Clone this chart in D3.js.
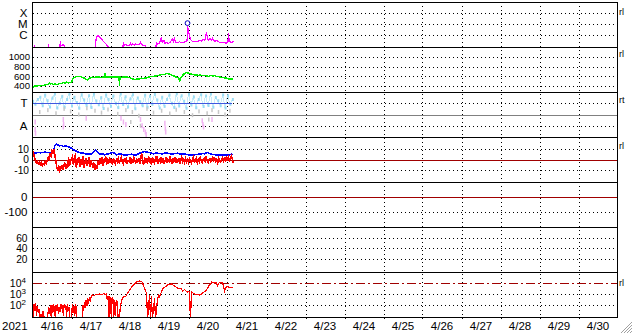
<!DOCTYPE html>
<html>
<head>
<meta charset="utf-8">
<script src="https://cdn.jsdelivr.net/npm/d3@7"></script>
<style>
body { margin: 0; background: #fff; }
svg { display: block; font-family: "Liberation Sans", Arial, sans-serif; }
</style>
</head>
<body>
<script>
// hours since 2021-04-16 00:00 UT, value
var days = ["4/16","4/17","4/18","4/19","4/20","4/21","4/22","4/23","4/24","4/25","4/26","4/27","4/28","4/29","4/30"];

var xray = [[0,5e-8],[1.0,5e-8],[1.2,1.3e-7],[1.5,5e-8],[9.5,5e-8],[9.8,1.6e-7],[10.1,5e-8],
  [16.8,5e-8],[17.1,2.8e-7],[17.5,1.2e-7],[18.2,1.1e-7],[18.6,1.4e-7],[19.5,1.1e-7],[20.2,5e-8],
  [38.5,5e-8],[39.2,5e-7],[40.0,9e-7],[41.0,7e-7],[42.5,4e-7],[44,2.3e-7],[45.5,1.4e-7],[46.5,8e-8],
  [55.5,6e-8],[56,2.3e-7],[56.4,1.2e-7],[57.5,1.4e-7],[58.5,1.1e-7],[60,1.3e-7],[60.3,2.3e-7],[60.7,1.2e-7],
  [61.5,1.5e-7],[62.5,1.2e-7],[63.5,1.6e-7],[64.5,1.3e-7],[66,1.4e-7],[66.5,2.6e-7],[66.9,1.3e-7],
  [68,1.2e-7],[69.5,1.1e-7],[70.2,6e-8],[75.8,6e-8],[76.3,2.3e-7],[76.8,1.5e-7],[78,1.6e-7],
  [79.4,7e-7],[79.8,2e-7],[80.9,3.5e-7],[81.4,1.8e-7],[82.5,2e-7],[83.5,1.7e-7],[84.5,2.1e-7],
  [86.2,4.5e-7],[86.7,2e-7],[87.4,6e-7],[87.9,2.2e-7],[89,2e-7],[90.5,2.4e-7],[92,2e-7],[93.5,2.3e-7],
  [95.1,3e-7],[95.4,7e-6],[96,2e-6],[96.6,8e-7],[97.2,4e-7],[98.5,2.5e-7],[100,2.8e-7],[101.5,2.4e-7],
  [103,3.5e-7],[104,2.8e-7],[105,4e-7],[106,3e-7],[107.1,1.9e-6],[107.7,4e-7],[108.5,3.5e-7],[109.3,5e-7],
  [110,3.2e-7],[110.7,5e-7],[111.5,3e-7],[112.5,2.8e-7],[113.5,3.2e-7],[115,2.2e-7],[116.5,1.9e-7],
  [118,2e-7],[119.5,1.8e-7],[120.3,2.5e-7],[120.6,1.6e-6],[121,3e-7],[122,2.2e-7],[123,2e-7],[123.6,3e-7]];
var flareT = [95.4];
var flareV = [1.2e-5];

var speed = [[0,365],[1,390],[2,405],[3,395],[4,410],[5,400],[6,415],[7,405],[8,425],[9,430],[10,445],
  [10.5,465],[11,440],[12,450],[13,430],[14,445],[15,425],[16,440],[17,455],[18,445],[19,470],[20,455],
  [21,480],[22,465],[23,475],[24,470],[24.5,520],[25,560],[26,580],[27,595],[28,590],[29,600],[30,585],
  [31,575],[32,560],[33,540],[34,525],[35,560],[36,575],[37,580],[38,575],[39,585],[40,580],[41,590],
  [42,575],[43,580],[44,585],[44.6,670],[45,580],[46,590],[47,585],[48,580],[49,590],[50,585],[51,580],
  [52,590],[53.3,580],[53.5,400],[53.8,585],[55,575],[56,590],[57,580],[58,585],[59,575],[60,570],
  [61,550],[62,540],[63,530],[64,545],[65,535],[66,550],[67,560],[68,555],[69,565],[70,560],[71,575],
  [72,585],[73,595],[74,590],[75,605],[76,600],[77,615],[78,620],[79,630],[80,640],[81,635],[82,650],
  [83,655],[84,645],[85,640],[86,620],[87,605],[88,590],[89,575],[90,570],[90.5,490],[91,560],[92,600],
  [93,640],[94,670],[95,680],[96,665],[97,650],[98,640],[99,635],[100,625],[101,630],[102,620],[103,625],
  [104,615],[105,620],[106,610],[107,615],[108,590],[109,610],[110,620],[111,605],[112,615],[113,600],
  [114,595],[115,590],[116,580],[117,575],[118,570],[119,565],[120,550],[121,545],[122,540],[123,545],[123.7,550]];

// IMF sector angle (deg)
var phiTowards = [[0,285],[1.5,262],[3,300],[4.5,318],[6,250],[7.5,335],[9,290],[10.5,240],[12,310],
  [13.5,344],[15,232],[16.5,270],[18,325],[19.5,238],[21,300],[22.5,345],[24,248],[25.5,318],[27,276],
  [28.5,230],[30,338],[31.5,296],[33,252],[34.5,330],[36,236],[37.5,342],[39,288],[40.5,258],[42,315],
  [43.5,228],[45,336],[46.5,300],[48,246],[49.5,328],[51,270],[52.5,235],[54,344],[55.5,260],[57,322],
  [58.5,240],[60,304],[61.5,338],[63,226],[64.5,312],[66,282],[67.5,250],[69,334],[70.5,238],[72,326],
  [73.5,262],[75,340],[76.5,296],[78,232],[79.5,318],[81,245],[82.5,300],[84,336],[85.5,270],[87,236],
  [88.5,346],[90,248],[91.5,330],[93,286],[94.5,230],[96,342],[97.5,256],[99,320],[100.5,234],[102,300],
  [103.5,338],[105,244],[106.5,328],[108,252],[109.5,344],[111,238],[112.5,316],[114,290],[115.5,250],
  [117,336],[118.5,232],[120,330],[121.5,262],[123,300]];
var phiGray = [[4,200],[9,215],[14,190],[19,225],[23,205],[28,180],[33,230],[38,210],[42,195],[46,220],
  [52,185],[57,215],[60,120],[61,200],[65,170],[66,90],[70,225],[74,195],[79,210],[84,188],[88,218],
  [93,200],[98,175],[102,205],[107,190],[108,140],[110,215],[114,200],[118,180],[121,210]];
var phiAway = [[1.2,120],[1.2,60],[1.4,30],[18.5,140],[18.7,100],[18.5,80],[32.6,150],[54,150],[55.5,120],
  [57,100],[66,140],[67,90],[68,60],[69,40],[69.5,20],[81,110],[81.3,70],[81.5,40],[104,130],[104.4,100],
  [104.8,80],[110,140]];

var bt = [[0,6.5],[1.5,6],[3,6.8],[5,6.4],[7.4,7],[9.5,6.6],[11.7,6.8],[12.9,7.5],[13.8,13.5],[14.8,14.5],
  [16.6,13],[17.8,13.4],[19,12.5],[20.3,12.9],[21.5,12.3],[22.8,12],[24,10.5],[25.8,9],[27,7.8],[28.9,6.8],
  [30.1,6.2],[31.4,6],[32.6,5.3],[33.8,5.5],[35.7,5],[37.5,7],[38.8,9],[40,7],[41.8,5],[43,5.6],[44.3,4.5],
  [45.6,5.2],[46.8,5.5],[48.6,6.5],[49.8,6.5],[51.7,4.5],[53.2,5.3],[54.8,5],[56.3,4.4],[57.8,4],[59.3,4.8],
  [60.9,5],[62.5,4.2],[64,4.5],[66.5,6.5],[68.9,7.5],[70.4,7],[72,6.8],[74.5,5.5],[76.3,6.1],[78.2,5.8],
  [80,5.3],[81.8,6.3],[83.6,5.8],[85.5,5.2],[87.4,5.7],[89.2,6],[91,5.2],[92.9,5.5],[94.5,5],[96,4.5],
  [97.8,4.1],[99.7,4.5],[101.2,4.9],[102.8,5],[104.4,5.6],[105.8,5.5],[107.7,6.8],[109,5.7],[110.2,5],
  [112,4.6],[113.8,4.5],[115.6,4.1],[117.5,4],[118.8,4.6],[120,4.2],[121.3,4.4],[122.5,5],[123.5,4.5]];

var bz = [[0,4],[0.6,6],[1.2,2],[1.8,-1],[2.4,-3],[3,-2],[3.6,-4],[4.2,-3],[4.8,-5],[5.4,-3],[6,-6],
  [6.6,-4],[7.2,-5],[7.8,-2],[8.4,-4],[9,-1],[9.6,2],[10.2,0],[10.8,5],[11.4,3],[12,8],[12.6,6],[13.2,10],
  [13.8,4],[14.4,-2],[15,-8],[15.6,-10],[16.2,-7],[16.8,-11],[17.4,-9],[18,-5],[18.6,-10],[19.2,-7],
  [19.8,-3],[20.4,-9],[21,-4],[21.6,-8],[22.2,2],[22.8,-6],[23.4,-2],[24,1],[24.6,3],[25.2,-5],[25.8,2],
  [26.4,4],[27,-8],[27.6,1],[28.2,-3],[28.8,2],[29.4,-7],[30,0],[30.6,-5],[31.2,3],[31.8,-8],[32.4,-2],
  [33,1],[33.6,-6],[34.2,-3],[34.8,2],[35.4,-7],[36,-1],[36.6,-4],[37.2,-8],[37.8,-3],[38.4,-10],[39,-6],
  [39.6,-9],[40.2,-2],[40.8,-5],[41.4,1],[42,-4],[42.6,2],[43.2,-6],[43.8,0],[44.4,-3],[45,3],[45.6,-5],
  [46.2,-1],[46.8,-4],[47.4,2],[48,-3],[48.6,0],[49.2,-5],[49.8,1],[50.4,-2],[51,-4],[51.6,0],[52.2,-2],
  [52.8,1],[53.4,-3],[54,-1],[54.6,2],[55.2,-2],[55.8,-4],[56.4,0],[57,-2],[57.6,1],[58.2,-3],[58.8,-1],
  [59.4,-2],[60,1],[60.6,-3],[61.2,0],[61.8,-2],[62.4,2],[63,-1],[63.6,-3],[64.2,0],[64.8,-2],[65.4,1],
  [66,-4],[66.6,3],[67.2,5],[67.8,-2],[68.4,-5],[69,2],[69.6,-3],[70.2,1],[70.8,-4],[71.4,3],[72,-2],
  [72.6,0],[73.2,-5],[73.8,2],[74.4,-1],[75,-3],[75.6,1],[76.2,-2],[76.8,3],[77.4,-4],[78,0],[78.6,-2],
  [79.2,2],[79.8,-3],[80.4,1],[81,-4],[81.6,-1],[82.2,2],[82.8,-3],[83.4,0],[84,-2],[84.6,3],[85.2,-1],
  [85.8,-4],[86.4,1],[87,-2],[87.6,2],[88.2,-3],[88.8,0],[89.4,-2],[90,1],[90.6,-4],[91.2,-1],[91.8,2],
  [92.4,-2],[93,0],[93.6,-3],[94.2,1],[94.8,-2],[95.4,0],[96,-3],[96.6,1],[97.2,-1],[97.8,-3],[98.4,0],
  [99,2],[99.6,-2],[100.2,-1],[100.8,1],[101.4,-3],[102,0],[102.6,-2],[103.2,2],[103.8,-1],[104.4,-3],
  [105,0],[105.6,1],[106.2,-2],[106.8,2],[107.4,-1],[108,-3],[108.6,0],[109.2,1],[109.8,-2],[110.4,0],
  [111,2],[111.6,-1],[112.2,1],[112.8,-2],[113.4,0],[114,-3],[114.6,1],[115.2,-1],[115.8,-2],[116.4,0],
  [117,2],[117.6,-1],[118.2,1],[118.8,-2],[119.4,3],[120,0],[120.6,2],[121.2,-1],[121.8,1],[122.4,3],
  [123,0],[123.5,-3]];

var electron = [[0,60],[0.5,8],[1.0,120],[1.5,30],[2.0,150],[2.5,10],[3.0,80],[3.5,20],[4.0,40],[4.6,5],
  [5.2,15],[5.8,4],[6.5,30],[7.0,5],[7.5,10],[8.0,3],[9.0,5],[10.0,60],[10.5,15],[11.0,90],[11.5,8],
  [12.0,100],[12.5,20],[13.0,120],[13.5,40],[14.0,7],[14.5,100],[15.0,30],[15.5,110],[16.0,15],[16.5,70],
  [17.0,25],[17.5,130],[18.0,40],[18.5,90],[19.0,10],[19.5,120],[20.0,50],[20.5,100],[21.0,8],[21.5,130],
  [22.0,30],[22.5,60],[23.0,5],[24.0,4],[24.5,110],[25,20],[25.5,80],[26,10],[26.5,120],[27,40],[27.5,3],
  [30.5,3],[31,100],[31.5,30],[32,200],[32.5,50],[33,300],[33.5,80],[34,400],[34.5,120],[35,500],
  [35.5,200],[36.2,700],[37,800],[38,750],[39,900],[40,850],[41,1000],[42,900],[43,950],[44,1100],
  [45,900],[45.5,1100],[46,300],[46.5,600],[47,5],[47.5,500],[48,400],[48.5,5],[49,450],[49.5,350],
  [50,5],[50.5,300],[51,10],[51.5,250],[52,200],[52.8,5],[53.3,3],[54,60],[54.5,150],[55,300],[56,600],
  [57.2,550],[58.5,1200],[59.7,2300],[61.5,5300],[64,12000],[65.8,15000],[67.1,14000],[67.7,10000],
  [69.5,2000],[70.2,1200],[70.8,5],[72,800],[72.6,5],[73.2,600],[73.8,5],[75.1,400],[75.7,5],[76.9,300],
  [77.5,800],[78.2,550],[80,2800],[83.1,6600],[85.5,8000],[87.4,5300],[89.2,3500],[91.7,2800],
  [92.3,1900],[93.5,2500],[95.4,1500],[96.6,1800],[97.2,3],[97.8,1500],[99.7,1000],[101,900],
  [102.8,800],[104,1000],[104.6,1200],[107.1,2300],[107.7,3500],[110.2,12000],[112,10000],[113.2,11000],
  [113.8,5000],[115.1,12000],[116.9,11000],[118.2,1900],[119.4,5000],[121.2,4000],[123.1,3500]];

var W = 633, H = 334;
var x0 = 32.5, x1 = 617.5;
var tops = [2, 47, 92, 137, 182, 227, 272];
var ph = 45;
var darkRed = "#a00000";

var svg = d3.select("body").append("svg")
    .attr("width", W)
    .attr("height", H);

var x = d3.scaleLinear().domain([0, 360]).range([x0, x1]);

function bandY(i) { return [tops[i] + ph, tops[i]]; }

var yX  = d3.scaleLog().domain([8.1e-8, 1e-3]).range(bandY(0));
var yV  = d3.scaleLinear().domain([275, 1205]).range(bandY(1));
var yP  = d3.scaleLinear().domain([0, 360]).range(bandY(2));
var yB  = d3.scaleLinear().domain([-21.5, 21.5]).range(bandY(3));
var yD  = d3.scaleLinear().domain([-200, 100]).range(bandY(4));
var yK  = d3.scaleLinear().domain([-5, 81]).range(bandY(5));
var yE  = d3.scaleLog().domain([Math.pow(10, 0.91), 1e5]).range(bandY(6));

function snap(v) { return Math.round(v) + 0.5; }

// clip paths for each panel
var defs = svg.append("defs");
tops.forEach(function(t, i) {
  defs.append("clipPath").attr("id", "clip" + i)
    .append("rect").attr("x", x0).attr("y", t).attr("width", x1 - x0).attr("height", ph);
});

var grid = svg.append("g").attr("shape-rendering", "crispEdges");

// vertical day grid
d3.range(1, days.length).forEach(function(d) {
  grid.append("line")
    .attr("x1", snap(x(d * 24))).attr("x2", snap(x(d * 24)))
    .attr("y1", tops[0]).attr("y2", tops[6] + ph + 3)
    .attr("stroke", "#000").attr("stroke-dasharray", "1,3");
});

// horizontal dotted grid lines
var hgrid = [
  [yX, [1e-4, 1e-5, 1e-6]],
  [yV, [1000, 800, 600, 400]],
  [yP, [270, 90]],
  [yB, [10, -10]],
  [yD, [-100]],
  [yK, [60, 40, 20]],
  [yE, [1e3, 1e2]]
];
hgrid.forEach(function(g) {
  g[1].forEach(function(v) {
    grid.append("line")
      .attr("x1", x0).attr("x2", x1)
      .attr("y1", snap(g[0](v))).attr("y2", snap(g[0](v)))
      .attr("stroke", "#000").attr("stroke-dasharray", "1,3");
  });
});

// reference lines
grid.append("line").attr("x1", x0).attr("x2", x1)
  .attr("y1", snap(yP(180))).attr("y2", snap(yP(180))).attr("stroke", "#808080");
grid.append("line").attr("x1", x0).attr("x2", x1)
  .attr("y1", snap(yB(0))).attr("y2", snap(yB(0))).attr("stroke", darkRed);
grid.append("line").attr("x1", x0).attr("x2", x1)
  .attr("y1", snap(yD(0))).attr("y2", snap(yD(0))).attr("stroke", darkRed);
grid.append("line").attr("x1", x0).attr("x2", x1)
  .attr("y1", snap(yE(1e4))).attr("y2", snap(yE(1e4)))
  .attr("stroke", darkRed).attr("stroke-dasharray", "9,3,2,3");

function drawLine(i, data, ys, color, width) {
  return svg.append("path")
    .datum(data)
    .attr("clip-path", "url(#clip" + i + ")")
    .attr("fill", "none")
    .attr("stroke", color)
    .attr("stroke-width", width || 1)
    .attr("shape-rendering", "crispEdges")
    .attr("d", d3.line().x(function(d) { return x(d[0]); }).y(function(d) { return ys(d[1]); }));
}

// panel 1: X-ray flux
drawLine(0, xray, yX, "#ff00ff", 1.2);
svg.selectAll(".flare").data(flareT).enter().append("circle")
  .attr("cx", function(d) { return x(d); })
  .attr("cy", function(d, i) { return yX(flareV[i]); })
  .attr("r", 2.4)
  .attr("fill", "none")
  .attr("stroke", "#0000c0");

// panel 2: solar wind speed
drawLine(1, speed, yV, "#00ee00", 1.5);

// panel 3: IMF sector
drawLine(2, phiTowards, yP, "#c6ecf9", 1);
svg.append("g").attr("clip-path", "url(#clip2)").selectAll("rect.t").data(phiTowards).enter().append("rect")
  .attr("x", function(d) { return x(d[0]) - 0.5; }).attr("y", function(d) { return yP(d[1]) - 1.5; })
  .attr("width", 2).attr("height", 3).attr("fill", "#9adcf4");
svg.append("g").attr("clip-path", "url(#clip2)").selectAll("rect.g").data(phiGray).enter().append("rect")
  .attr("x", function(d) { return x(d[0]); }).attr("y", function(d) { return yP(d[1]) - 2; })
  .attr("width", 1.5).attr("height", 4).attr("fill", "#c8c8c8");
svg.append("g").attr("clip-path", "url(#clip2)").selectAll("rect.a").data(phiAway).enter().append("rect")
  .attr("x", function(d) { return x(d[0]); }).attr("y", function(d) { return yP(d[1]) - 2.5; })
  .attr("width", 1.5).attr("height", 5).attr("fill", "#f2b4f2");
svg.append("line")
  .attr("x1", x(0)).attr("x2", x(122.5))
  .attr("y1", snap(yP(270))).attr("y2", snap(yP(270)))
  .attr("stroke", "#4058e0").attr("shape-rendering", "crispEdges");

// panel 4: IMF Bt / Bz
drawLine(3, bt, yB, "#0000ff", 1.6);
drawLine(3, bz, yB, "#ff0000", 1.6);

// panel 7: electron flux
drawLine(6, electron, yE, "#ff0000", 1.2);

// panel frames
var frame = svg.append("g").attr("shape-rendering", "crispEdges");
tops.forEach(function(t) {
  frame.append("line").attr("x1", x0).attr("x2", x1 + 0.5)
    .attr("y1", t + 0.5).attr("y2", t + 0.5).attr("stroke", "#000");
});
frame.append("line").attr("x1", x0).attr("x2", x1 + 0.5)
  .attr("y1", tops[6] + ph + 0.5).attr("y2", tops[6] + ph + 0.5).attr("stroke", "#000");
frame.append("line").attr("x1", x0).attr("x2", x0)
  .attr("y1", tops[0]).attr("y2", tops[6] + ph + 1).attr("stroke", "#000");
frame.append("line").attr("x1", x1).attr("x2", x1)
  .attr("y1", tops[0]).attr("y2", tops[6] + ph + 1).attr("stroke", "#000");

// labels
var lab = svg.append("g").attr("font-size", "11.5px").attr("fill", "#000");
function ylab(txt, y, xr, fs) {
  return lab.append("text").attr("x", xr).attr("y", y).attr("dy", "0.36em")
    .attr("font-size", fs || null)
    .attr("text-anchor", "end").text(txt);
}
ylab("X", yX(1e-4), 27.5);
ylab("M", yX(1e-5), 27.5);
ylab("C", yX(1e-6), 27.5);
[1000, 800, 600, 400].forEach(function(v) { ylab(v, yV(v), 30, "9.6px"); });
ylab("T", yP(270), 27.5);
ylab("A", yP(90), 27.5);
[10, 0, -10].forEach(function(v) { ylab(v, yB(v), 29, "10.2px"); });
[0, -100].forEach(function(v) { ylab(v, yD(v), 27.5); });
[60, 40, 20].forEach(function(v) { ylab(v, yK(v), 27.5, "10.2px"); });
[4, 3, 2].forEach(function(p) {
  var t = lab.append("text").attr("x", 26).attr("y", yE(Math.pow(10, p))).attr("dy", "0.42em")
    .attr("font-size", "10.5px").attr("text-anchor", "end");
  t.append("tspan").text("10");
  t.append("tspan").attr("font-size", "8px").attr("dy", "-0.6em").text(p);
});

// right side markers
var rmarks = [["rl", yX(1e-4) - 1], ["rl", yV(1000) - 3], ["rt", yP(270) - 3], ["rl", yB(10) - 3], ["rl", yE(1e4)]];
rmarks.forEach(function(m) {
  lab.append("text").attr("x", 619).attr("y", m[1]).attr("dy", "0.36em")
    .attr("font-size", "9px").text(m[0]);
});

// time axis labels
lab.append("text").attr("x", 2).attr("y", 330).text("2021");
lab.selectAll(".day").data(days).enter().append("text")
  .attr("x", function(d, i) { return x(i * 24 + 12); })
  .attr("y", 330)
  .attr("text-anchor", "middle")
  .text(function(d) { return d; });

// window grip
[0, 3, 6, 9].forEach(function(o) {
  svg.append("line")
    .attr("x1", 621 + o).attr("y1", 333)
    .attr("x2", 632).attr("y2", 322 + o)
    .attr("stroke", "#a0a0a0");
});
</script>
</body>
</html>
